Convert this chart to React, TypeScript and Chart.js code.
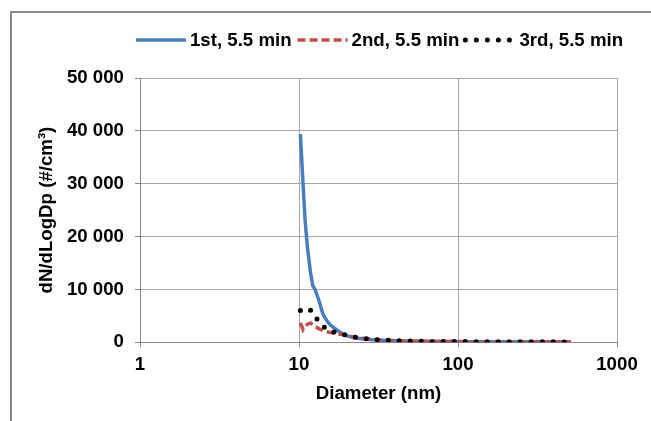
import React, { useEffect, useRef } from "react";
import { Chart, registerables } from "chart.js";

Chart.register(...registerables);

const diameters = [
  10.2, 10.6, 10.9, 11.3, 11.8, 12.2, 12.6, 13.1, 13.6, 14.1, 14.6, 15.1, 15.7, 16.3, 16.8, 17.5,
  18.1, 18.8, 19.5, 20.2, 20.9, 21.7, 22.5, 23.3, 24.1, 25.0, 26.9, 28.9, 31.1, 33.4, 35.9, 38.5,
  41.4, 44.5, 47.8, 51.4, 55.2, 59.4, 63.8, 68.5, 73.7, 79.1, 85.1, 91.4, 98.2, 105.5, 113.4, 121.9,
  131.0, 140.7, 151.2, 162.5, 174.7, 187.7, 201.7, 216.7, 232.9, 250.3, 269.0, 289.0, 310.6, 333.8,
  358.7, 385.5, 414.2, 445.1, 478.3, 514.0,
];

const first = [
  39400, 30000, 23500, 17900, 13300, 10700, 10000, 8600, 7100, 5400, 4600, 3900, 3300, 2900, 2600, 2200,
  1900, 1550, 1350, 1200, 1050, 950, 850, 750, 700, 640, 560, 480, 420, 370, 320, 280,
  250, 225, 205, 190, 170, 160, 150, 140, 130, 125, 120, 115, 110, 105, 100, 100,
  95, 95, 90, 90, 85, 85, 80, 80, 75, 75, 70, 70, 65, 65,
  60, 60, 55, 55, 50, 45,
];

const second = [
  3650, 2400, 3000, 3400, 3650, 3300, 3000, 2700, 2400, 2250, 2100, 1950, 1850, 1750, 1650, 1550,
  1500, 1450, 1350, 1250, 1150, 1050, 950, 870, 800, 740, 640, 550, 470, 410, 350, 310,
  270, 240, 215, 195, 180, 165, 155, 145, 135, 130, 125, 120, 115, 110, 105, 100,
  100, 95, 95, 90, 90, 85, 85, 80, 80, 75, 75, 70, 70, 65,
  65, 60, 60, 55, 50, 45,
];

const third = [
  6000, 6200, 6300, 6400, 6100, 5500, 4900, 4200, 3600, 3100, 2700, 2400, 2150, 2000, 1850, 1750,
  1650, 1500, 1400, 1280, 1150, 1050, 950, 850, 780, 720, 620, 540, 470, 410, 360, 320,
  280, 250, 225, 205, 190, 175, 160, 150, 140, 135, 130, 125, 120, 115, 110, 105,
  100, 100, 95, 95, 90, 90, 85, 85, 80, 80, 75, 75, 70, 70,
  65, 65, 60, 55, 50, 45,
];

const seriesLabels = ["1st, 5.5 min", "2nd, 5.5 min", "3rd, 5.5 min"];
const xTickValues = [1, 10, 100, 1000];
const yTickValues = [0, 10000, 20000, 30000, 40000, 50000];

const FONT = "'Liberation Sans', Arial, sans-serif";
const FONT_SIZE = 18.67;

function fmt(v: number): string {
  return String(v).replace(/\B(?=(\d{3})+(?!\d))/g, " ");
}

const legendPlugin = {
  id: "lineLegend",
  afterDraw(chart: any) {
    const ctx = chart.ctx as CanvasRenderingContext2D;
    const area = chart.chartArea;
    ctx.save();
    ctx.font = `bold ${FONT_SIZE}px ${FONT}`;
    const lineW = 50;
    const gapLT = 4;
    const gapItem = 6;
    const sets = chart.data.datasets as any[];
    const widths = sets.map((ds) => ctx.measureText(ds.label).width);
    const total =
      widths.reduce((s: number, w: number) => s + lineW + gapLT + w, 0) + gapItem * (sets.length - 1);
    let x = (area.left + area.right) / 2 + 1 - total / 2;
    const y = 40;
    sets.forEach((ds, i) => {
      ctx.beginPath();
      ctx.strokeStyle = ds.borderColor;
      ctx.lineWidth = ds.borderWidth;
      ctx.setLineDash(ds.borderDash || []);
      ctx.lineCap = ds.borderCapStyle || "butt";
      ctx.moveTo(x, y);
      ctx.lineTo(x + lineW, y);
      ctx.stroke();
      ctx.setLineDash([]);
      ctx.fillStyle = "#000";
      ctx.textAlign = "left";
      ctx.textBaseline = "middle";
      ctx.fillText(ds.label, x + lineW + gapLT, y + 1);
      x += lineW + gapLT + widths[i] + gapItem;
    });
    ctx.restore();
  },
};

export default function App() {
  const ref = useRef<HTMLCanvasElement | null>(null);

  useEffect(() => {
    if (!ref.current) return;
    const toPts = (arr: number[]) => diameters.map((d, i) => ({ x: d, y: arr[i] }));
    const chart = new Chart(ref.current, {
      type: "line",
      data: {
        datasets: [
          {
            label: seriesLabels[0],
            data: toPts(first),
            borderColor: "#4a7ebb",
            backgroundColor: "#4a7ebb",
            borderWidth: 3.5,
            pointRadius: 0,
            tension: 0,
            order: 2,
          },
          {
            label: seriesLabels[1],
            data: toPts(second),
            borderColor: "#c0504d",
            backgroundColor: "#c0504d",
            borderWidth: 3.5,
            borderDash: [8, 4],
            pointRadius: 0,
            tension: 0,
            order: 1,
          },
          {
            label: seriesLabels[2],
            data: toPts(third),
            borderColor: "#000000",
            backgroundColor: "#000000",
            borderWidth: 5,
            borderDash: [0, 11],
            borderCapStyle: "round",
            pointRadius: 0,
            tension: 0,
            order: 0,
          },
        ],
      },
      options: {
        responsive: false,
        animation: false,
        devicePixelRatio: 1,
        layout: { padding: { left: 31, right: 34, top: 78, bottom: 16 } },
        font: { family: FONT, size: FONT_SIZE, weight: "bold" },
        color: "#000",
        plugins: {
          tooltip: { enabled: false },
          legend: { display: false },
        },
        scales: {
          x: {
            type: "logarithmic",
            min: 1,
            max: 1000,
            afterBuildTicks: (scale: any) => {
              scale.ticks = xTickValues.map((v) => ({ value: v }));
            },
            ticks: {
              color: "#000",
              padding: 6,
              autoSkip: false,
              maxRotation: 0,
              font: { family: FONT, size: FONT_SIZE, weight: "bold" },
              callback: (v: any) => String(v),
            },
            grid: { color: "#a6a6a6", tickLength: 5, tickColor: "#898989" },
            border: { color: "#898989" },
            title: {
              display: true,
              text: "Diameter (nm)",
              color: "#000",
              padding: { top: 1, bottom: 0 },
              font: { family: FONT, size: FONT_SIZE, weight: "bold" },
            },
          },
          y: {
            min: 0,
            max: 50000,
            afterBuildTicks: (scale: any) => {
              scale.ticks = yTickValues.map((v) => ({ value: v }));
            },
            afterFit: (scale: any) => {
              scale.width = 109;
            },
            ticks: {
              color: "#000",
              padding: 11,
              font: { family: FONT, size: FONT_SIZE, weight: "bold" },
              callback: (v: any) => fmt(Number(v)),
            },
            grid: { color: "#a6a6a6", tickLength: 5, tickColor: "#898989" },
            border: { color: "#898989" },
            title: {
              display: true,
              text: "dN/dLogDp (#/cm³)",
              color: "#000",
              padding: { top: 5, bottom: 0 },
              font: { family: FONT, size: FONT_SIZE, weight: "bold" },
            },
          },
        },
      },
      plugins: [legendPlugin],
    } as any);
    return () => chart.destroy();
  }, []);

  return (
    <div
      style={{
        position: "absolute",
        left: 0,
        top: 0,
        width: 651,
        height: 421,
        overflow: "hidden",
        background: "#fff",
      }}
    >
      <div
        style={{
          position: "absolute",
          left: 10,
          top: 11,
          width: 700,
          height: 500,
          borderLeft: "2px solid #898989",
          borderTop: "2px solid #898989",
        }}
      />
      <canvas
        ref={ref}
        width={651}
        height={421}
        style={{ position: "absolute", left: 0, top: 0, width: 651, height: 421 }}
      />
    </div>
  );
}
